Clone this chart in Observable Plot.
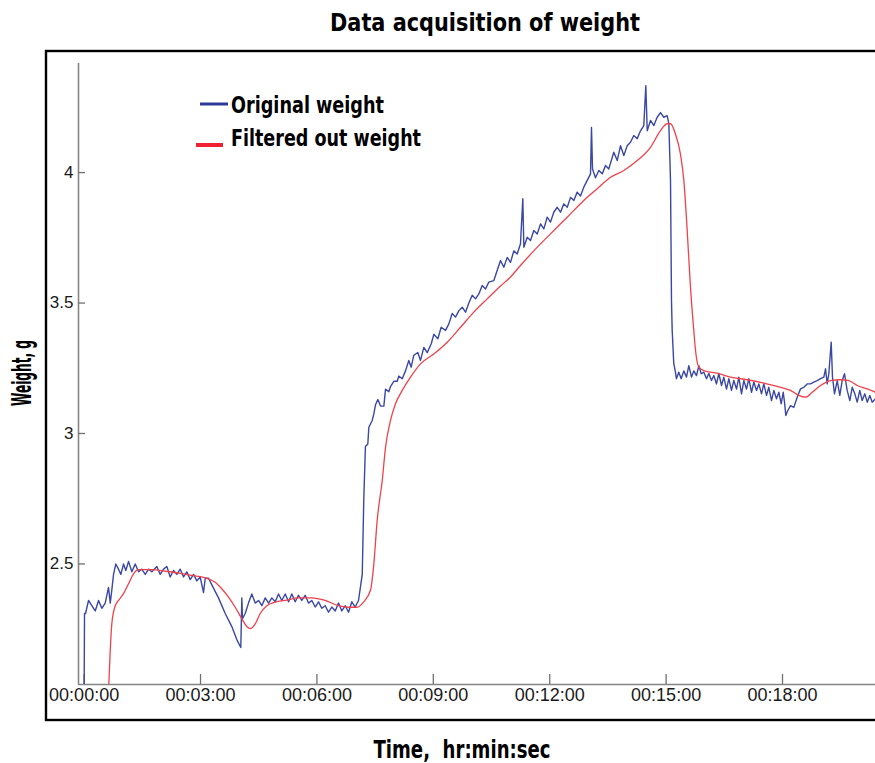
<!DOCTYPE html>
<html><head><meta charset="utf-8">
<script src="https://cdn.jsdelivr.net/npm/d3@7"></script>
<script src="https://cdn.jsdelivr.net/npm/@observablehq/plot@0.6"></script>
<style>
body{margin:0;background:#fff;overflow:hidden}
#chart{position:relative;width:875px;height:763px;overflow:hidden}
</style></head><body><div id="chart"></div>
<script>
// ---- data (time in seconds, weight in grams) ----
const originalTime = [0,0.6,2.2,6.8,11.9,17.2,22.3,27.4,32.6,37.7,40.4,42.8,45.5,49.0,53.2,56.8,60.9,64.5,68.7,73.8,79.0,84.1,89.2,94.5,99.6,104.7,112.4,117.7,122.8,127.9,133.1,138.2,143.4,148.6,153.7,158.8,164.1,169.2,174.3,179.5,184.6,187.3,192.4,197.5,207.8,218.2,228.4,236.1,242.3,243.9,244.9,249.1,254.2,259.3,264.6,269.7,274.8,280.1,285.2,290.3,295.5,300.6,305.7,311.0,316.1,321.2,326.4,331.5,336.6,341.9,347.0,352.1,357.4,362.5,367.6,372.8,377.9,383.0,388.3,393.4,398.5,403.8,408.9,414.0,419.2,424.3,430.1,432.5,435.0,438.7,440.3,445.5,448.0,450.6,454.2,458.4,463.5,466.1,471.2,473.8,478.9,484.2,486.6,491.9,497.0,502.1,505.8,509.8,516.0,520.2,525.3,530.6,536.8,540.8,547.0,552.2,558.9,564.0,569.2,574.3,579.4,584.7,589.8,594.9,600.2,605.3,610.4,615.6,620.7,625.8,633.6,643.9,649.0,654.3,659.4,664.5,669.7,674.8,678.4,680.0,685.2,690.3,695.4,700.7,705.8,710.9,716.1,721.2,726.3,731.6,736.7,741.8,747.1,752.2,757.3,762.5,767.6,772.7,778.0,783.1,784.6,786.2,790.8,795.9,801.2,806.3,811.4,819.1,824.4,829.5,834.6,839.8,844.9,850.0,855.3,860.4,865.5,868.6,870.8,875.9,881.0,886.2,891.3,896.4,901.7,904.2,906.8,908.3,909.4,911.8,914.4,915.9,919.6,923.3,927.4,931.5,935.1,939.3,942.8,947.0,950.6,954.3,958.3,962.5,966.0,970.2,973.8,977.9,981.5,985.7,989.2,993.4,997.0,1001.1,1004.7,1008.9,1012.4,1016.6,1020.2,1024.3,1027.9,1032.1,1035.6,1039.8,1043.4,1047.5,1051.1,1055.3,1058.8,1063.0,1066.6,1070.7,1074.3,1078.0,1081.1,1083.1,1085.1,1088.2,1092.4,1097.5,1102.7,1107.8,1112.9,1118.2,1123.3,1128.4,1133.7,1138.8,1143.9,1146.5,1149.1,1151.6,1155.3,1157.3,1160.4,1164.6,1168.6,1172.3,1175.9,1180.0,1184.1,1187.8,1191.8,1195.5,1199.5,1203.2,1207.3,1211.0,1215.0,1218.7,1223.8];
const originalWeight = [2.0,2.31,2.31,2.36,2.34,2.32,2.36,2.33,2.35,2.41,2.35,2.40,2.46,2.50,2.48,2.46,2.50,2.475,2.51,2.47,2.50,2.47,2.48,2.46,2.48,2.47,2.49,2.46,2.48,2.49,2.45,2.475,2.46,2.48,2.45,2.47,2.44,2.46,2.435,2.45,2.39,2.445,2.445,2.42,2.37,2.31,2.26,2.21,2.18,2.37,2.29,2.31,2.35,2.385,2.35,2.36,2.34,2.37,2.35,2.37,2.355,2.385,2.36,2.385,2.355,2.385,2.355,2.38,2.36,2.38,2.35,2.36,2.335,2.355,2.33,2.34,2.315,2.335,2.32,2.35,2.32,2.34,2.315,2.355,2.335,2.36,2.46,2.75,2.95,2.96,3.024,3.05,3.075,3.11,3.13,3.105,3.105,3.17,3.16,3.18,3.20,3.20,3.22,3.21,3.24,3.28,3.254,3.30,3.31,3.28,3.33,3.31,3.344,3.38,3.363,3.407,3.395,3.42,3.46,3.446,3.47,3.484,3.465,3.50,3.53,3.516,3.535,3.567,3.554,3.58,3.586,3.663,3.637,3.675,3.656,3.70,3.688,3.727,3.90,3.714,3.752,3.74,3.778,3.765,3.803,3.784,3.829,3.81,3.848,3.867,3.848,3.88,3.867,3.905,3.893,3.925,3.91,3.944,3.97,3.995,4.173,4.014,3.98,4.008,3.995,4.027,4.014,4.078,4.046,4.103,4.065,4.103,4.116,4.142,4.13,4.16,4.18,4.333,4.16,4.20,4.18,4.212,4.23,4.212,4.218,4.187,3.97,3.51,3.395,3.27,3.235,3.21,3.235,3.21,3.24,3.216,3.26,3.216,3.24,3.222,3.26,3.229,3.235,3.21,3.23,3.203,3.222,3.19,3.23,3.184,3.216,3.17,3.21,3.165,3.203,3.17,3.216,3.152,3.203,3.17,3.21,3.158,3.197,3.165,3.19,3.152,3.19,3.146,3.177,3.126,3.165,3.133,3.158,3.114,3.158,3.12,3.069,3.088,3.107,3.10,3.139,3.171,3.177,3.19,3.19,3.197,3.203,3.21,3.216,3.248,3.19,3.229,3.35,3.216,3.152,3.203,3.146,3.203,3.229,3.165,3.126,3.177,3.152,3.12,3.165,3.126,3.152,3.12,3.146,3.12,3.133];
const filteredTime = [37.5,40.4,42.8,48.1,53.2,60.9,68.7,76.4,84.1,104.7,125.4,146.0,166.5,187.3,202.7,212.9,223.3,233.7,243.9,251.6,256.9,264.6,272.3,282.5,295.5,311.0,331.5,352.1,372.8,393.4,408.9,421.7,432.1,442.9,448.0,453.2,461.0,466.1,473.8,481.5,491.9,504.7,520.2,540.8,561.5,582.1,602.6,623.4,643.9,659.4,674.8,695.4,721.2,747.1,772.7,793.5,814.0,834.6,855.3,875.9,891.3,901.7,906.8,914.4,922.1,927.4,932.6,937.7,942.8,945.5,950.6,958.3,979.0,999.6,1025.4,1051.1,1076.9,1092.4,1105.2,1115.6,1125.9,1138.8,1154.2,1169.7,1182.5,1195.5,1211.0,1223.8];
const filteredWeight = [2.0,2.17,2.27,2.34,2.36,2.386,2.424,2.462,2.478,2.478,2.472,2.465,2.456,2.447,2.43,2.405,2.373,2.334,2.29,2.26,2.252,2.27,2.31,2.34,2.354,2.36,2.37,2.37,2.36,2.34,2.334,2.334,2.354,2.40,2.50,2.667,2.82,2.947,3.05,3.114,3.165,3.216,3.267,3.305,3.35,3.407,3.465,3.516,3.565,3.60,3.644,3.70,3.765,3.829,3.893,3.938,3.982,4.008,4.046,4.097,4.161,4.187,4.187,4.148,4.072,3.97,3.778,3.56,3.395,3.318,3.254,3.241,3.231,3.216,3.206,3.193,3.177,3.165,3.146,3.139,3.158,3.184,3.203,3.206,3.203,3.184,3.171,3.158];
const xTickValues = [0, 180, 360, 540, 720, 900, 1080];
const xTickLabels = ["00:00:00","00:03:00","00:06:00","00:09:00","00:12:00","00:15:00","00:18:00"];
const yTickValues = [2.5, 3, 3.5, 4];
const yTickLabels = ["2.5","3","3.5","4"];
const seriesNames = ["Original weight", "Filtered out weight"];
const seriesColors = ["#3a47a3", "#f0414a"];
const titleText = "Data acquisition of weight";
const xLabel = "Time,  hr:min:sec";
const yLabel = "Weight, g";
const xDomain = [-8.7, 1223.8];
const yDomain = [2.038, 4.418];

const original = originalTime.map((t, i) => ({t, w: originalWeight[i]}));
const filtered = filteredTime.map((t, i) => ({t, w: filteredWeight[i]}));

const W = 875, H = 763, mL = 78, mT = 63, mR = 0, mB = 79;
const narrow = '"Liberation Sans Narrow","Arial Narrow","DejaVu Sans Condensed","Liberation Sans",Arial,sans-serif';
const regular = '"Liberation Sans",Arial,sans-serif';

const plot = Plot.plot({
  width: W, height: H,
  marginLeft: mL, marginTop: mT, marginRight: mR, marginBottom: mB,
  x: {domain: xDomain, label: null},
  y: {domain: yDomain, label: null},
  style: {fontFamily: regular, background: "#fff", color: "#1a1a1a"},
  marks: [
    Plot.ruleY([yDomain[0]], {stroke: "#858585", strokeWidth: 1.6}),
    Plot.ruleX([xDomain[0]], {stroke: "#858585", strokeWidth: 1.6}),
    Plot.tickY(yTickValues, {stroke: "#707070", strokeWidth: 1.3, insetRight: W - mL - mR - 7}),
    Plot.tickX(xTickValues, {stroke: "#707070", strokeWidth: 1.3, insetTop: H - mT - mB - 10}),
    Plot.axisY(yTickValues, {tickSize: 0, tickPadding: 5, fontSize: 17, label: null,
      tickFormat: d => yTickLabels[yTickValues.indexOf(d)]}),
    Plot.axisX(xTickValues, {tickSize: 0, tickPadding: 4, fontSize: 18, label: null,
      tickFormat: d => xTickLabels[xTickValues.indexOf(d)]}),
    Plot.line(original, {x: "t", y: "w", stroke: seriesColors[0], strokeWidth: 1.4, clip: true}),
    Plot.line(filtered, {x: "t", y: "w", stroke: seriesColors[1], strokeWidth: 1.3, curve: "monotone-x", clip: true})
  ]
});
document.getElementById("chart").appendChild(plot);

const svg = d3.select(plot);
// outer frame
svg.append("rect").attr("x", 46).attr("y", 51).attr("width", 900).attr("height", 669)
  .attr("fill", "none").attr("stroke", "#000").attr("stroke-width", 2.4);

function addText(str, x, y, size, len, anchor, rotate) {
  const t = svg.append("text").text(str)
    .attr("font-family", narrow).attr("font-weight", "bold").attr("font-size", size)
    .attr("fill", "#000").attr("text-anchor", anchor)
    .attr("textLength", len).attr("lengthAdjust", "spacingAndGlyphs");
  if (rotate) t.attr("transform", `translate(${x},${y}) rotate(-90)`);
  else t.attr("x", x).attr("y", y);
  return t;
}
addText(titleText, 485, 31, 25, 310, "middle");
addText(xLabel, 462, 758, 24, 177, "middle");
addText(yLabel, 31, 373, 26, 66, "middle", true);

// legend
svg.append("line").attr("x1", 200).attr("x2", 228).attr("y1", 104).attr("y2", 104)
  .attr("stroke", "#2b3a9a").attr("stroke-width", 3);
svg.append("line").attr("x1", 196).attr("x2", 223).attr("y1", 145).attr("y2", 145)
  .attr("stroke", "#ee2233").attr("stroke-width", 4);
addText(seriesNames[0], 231, 113, 23, 153, "start");
addText(seriesNames[1], 231, 146, 23, 190, "start");
</script></body></html>
